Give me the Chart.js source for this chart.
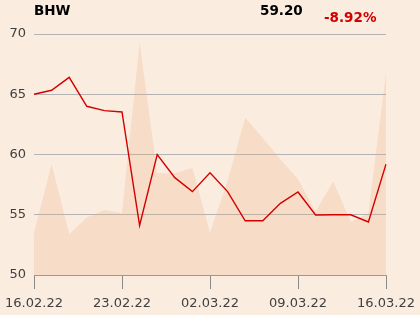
<!DOCTYPE html>
<html><head><meta charset="utf-8">
<script src="https://cdn.jsdelivr.net/npm/chart.js@4/dist/chart.umd.min.js"></script>
<style>html,body{margin:0;padding:0;background:#fbece0;}#wrap{width:420px;height:315px;position:relative;}</style>
</head><body><div id="wrap"><canvas id="c" width="420" height="315"></canvas></div>
<script>
const symbol = "BHW";
const lastPrice = "59.20";
const changePct = "-8.92%";
const dates = ["16.02.22","17.02.22","18.02.22","21.02.22","22.02.22","23.02.22","24.02.22","25.02.22","28.02.22","01.03.22","02.03.22","03.03.22","04.03.22","07.03.22","08.03.22","09.03.22","10.03.22","11.03.22","14.03.22","15.03.22","16.03.22"];
const prices = [65.0,65.33,66.4,64.0,63.64,63.53,54.12,60.0,58.08,56.92,58.49,56.92,54.5,54.5,55.95,56.89,54.98,55.0,55.0,54.4,59.2];
const volume = [17.3,46,16.9,23.9,27,25.6,96.4,42.2,42.2,44.4,17.5,39,65.3,56.8,48,39.7,26.3,38.8,22.1,25.5,83.7];
const yTicks = [50,55,60,65,70];

const headerPlugin = {
  id:'header',
  afterDraw(chart){
    const ctx = chart.ctx;
    ctx.save();
    ctx.font = 'bold 13.5px "DejaVu Sans"';
    ctx.textBaseline = 'alphabetic';
    ctx.textAlign = 'left';
    ctx.fillStyle = '#000';
    ctx.fillText(symbol, 34, 15);
    ctx.fillText(lastPrice, 260, 14.5);
    ctx.fillStyle = '#d40000';
    ctx.fillText(changePct, 324, 21.7);
    ctx.restore();
  }
};
const bgPlugin = {
  id:'bg',
  beforeDraw(chart){
    const ctx = chart.ctx;
    ctx.save(); ctx.fillStyle = '#fbece0'; ctx.fillRect(0,0,chart.width,chart.height); ctx.restore();
  }
};

new Chart(document.getElementById('c'), {
  type:'line',
  data:{
    labels: dates,
    datasets:[
      {label:'Price', data:prices, borderColor:'#d40000', borderWidth:1.4, pointRadius:0, fill:false, tension:0, yAxisID:'y', order:0},
      {label:'Volume', data:volume, borderWidth:0, borderColor:'rgba(0,0,0,0)', backgroundColor:'rgba(235,171,123,0.25)', pointRadius:0, fill:'origin', tension:0, yAxisID:'yVol', order:1}
    ]
  },
  options:{
    responsive:false, animation:false, devicePixelRatio:1,
    layout:{padding:{top:34,right:34,left:0,bottom:0}},
    plugins:{legend:{display:false}, tooltip:{enabled:false}},
    scales:{
      x:{
        type:'category', offset:false,
        afterBuildTicks(scale){ scale.ticks = scale.ticks.filter((t,i)=>i%5===0); },
        afterFit(scale){ scale.height = 40; },
        grid:{drawOnChartArea:false, drawTicks:true, tickLength:14, color:'#8a8a8a', lineWidth:1},
        border:{display:true, color:'#9a9a9a'},
        ticks:{autoSkip:false, maxRotation:0, color:'#404040', font:{family:'"DejaVu Sans"', size:13, lineHeight:1.95}, padding:2}
      },
      y:{
        min:50, max:70,
        afterBuildTicks(scale){ scale.ticks = yTicks.map(v=>({value:v})); },
        afterFit(scale){ scale.width = 34; },
        grid:{drawTicks:false, color:'#b3b3b3', lineWidth:1},
        border:{display:false},
        ticks:{color:'#404040', font:{family:'"DejaVu Sans"', size:13}, padding:8}
      },
      yVol:{min:0, max:100, display:false}
    }
  },
  plugins:[bgPlugin, headerPlugin]
});
</script></body></html>
